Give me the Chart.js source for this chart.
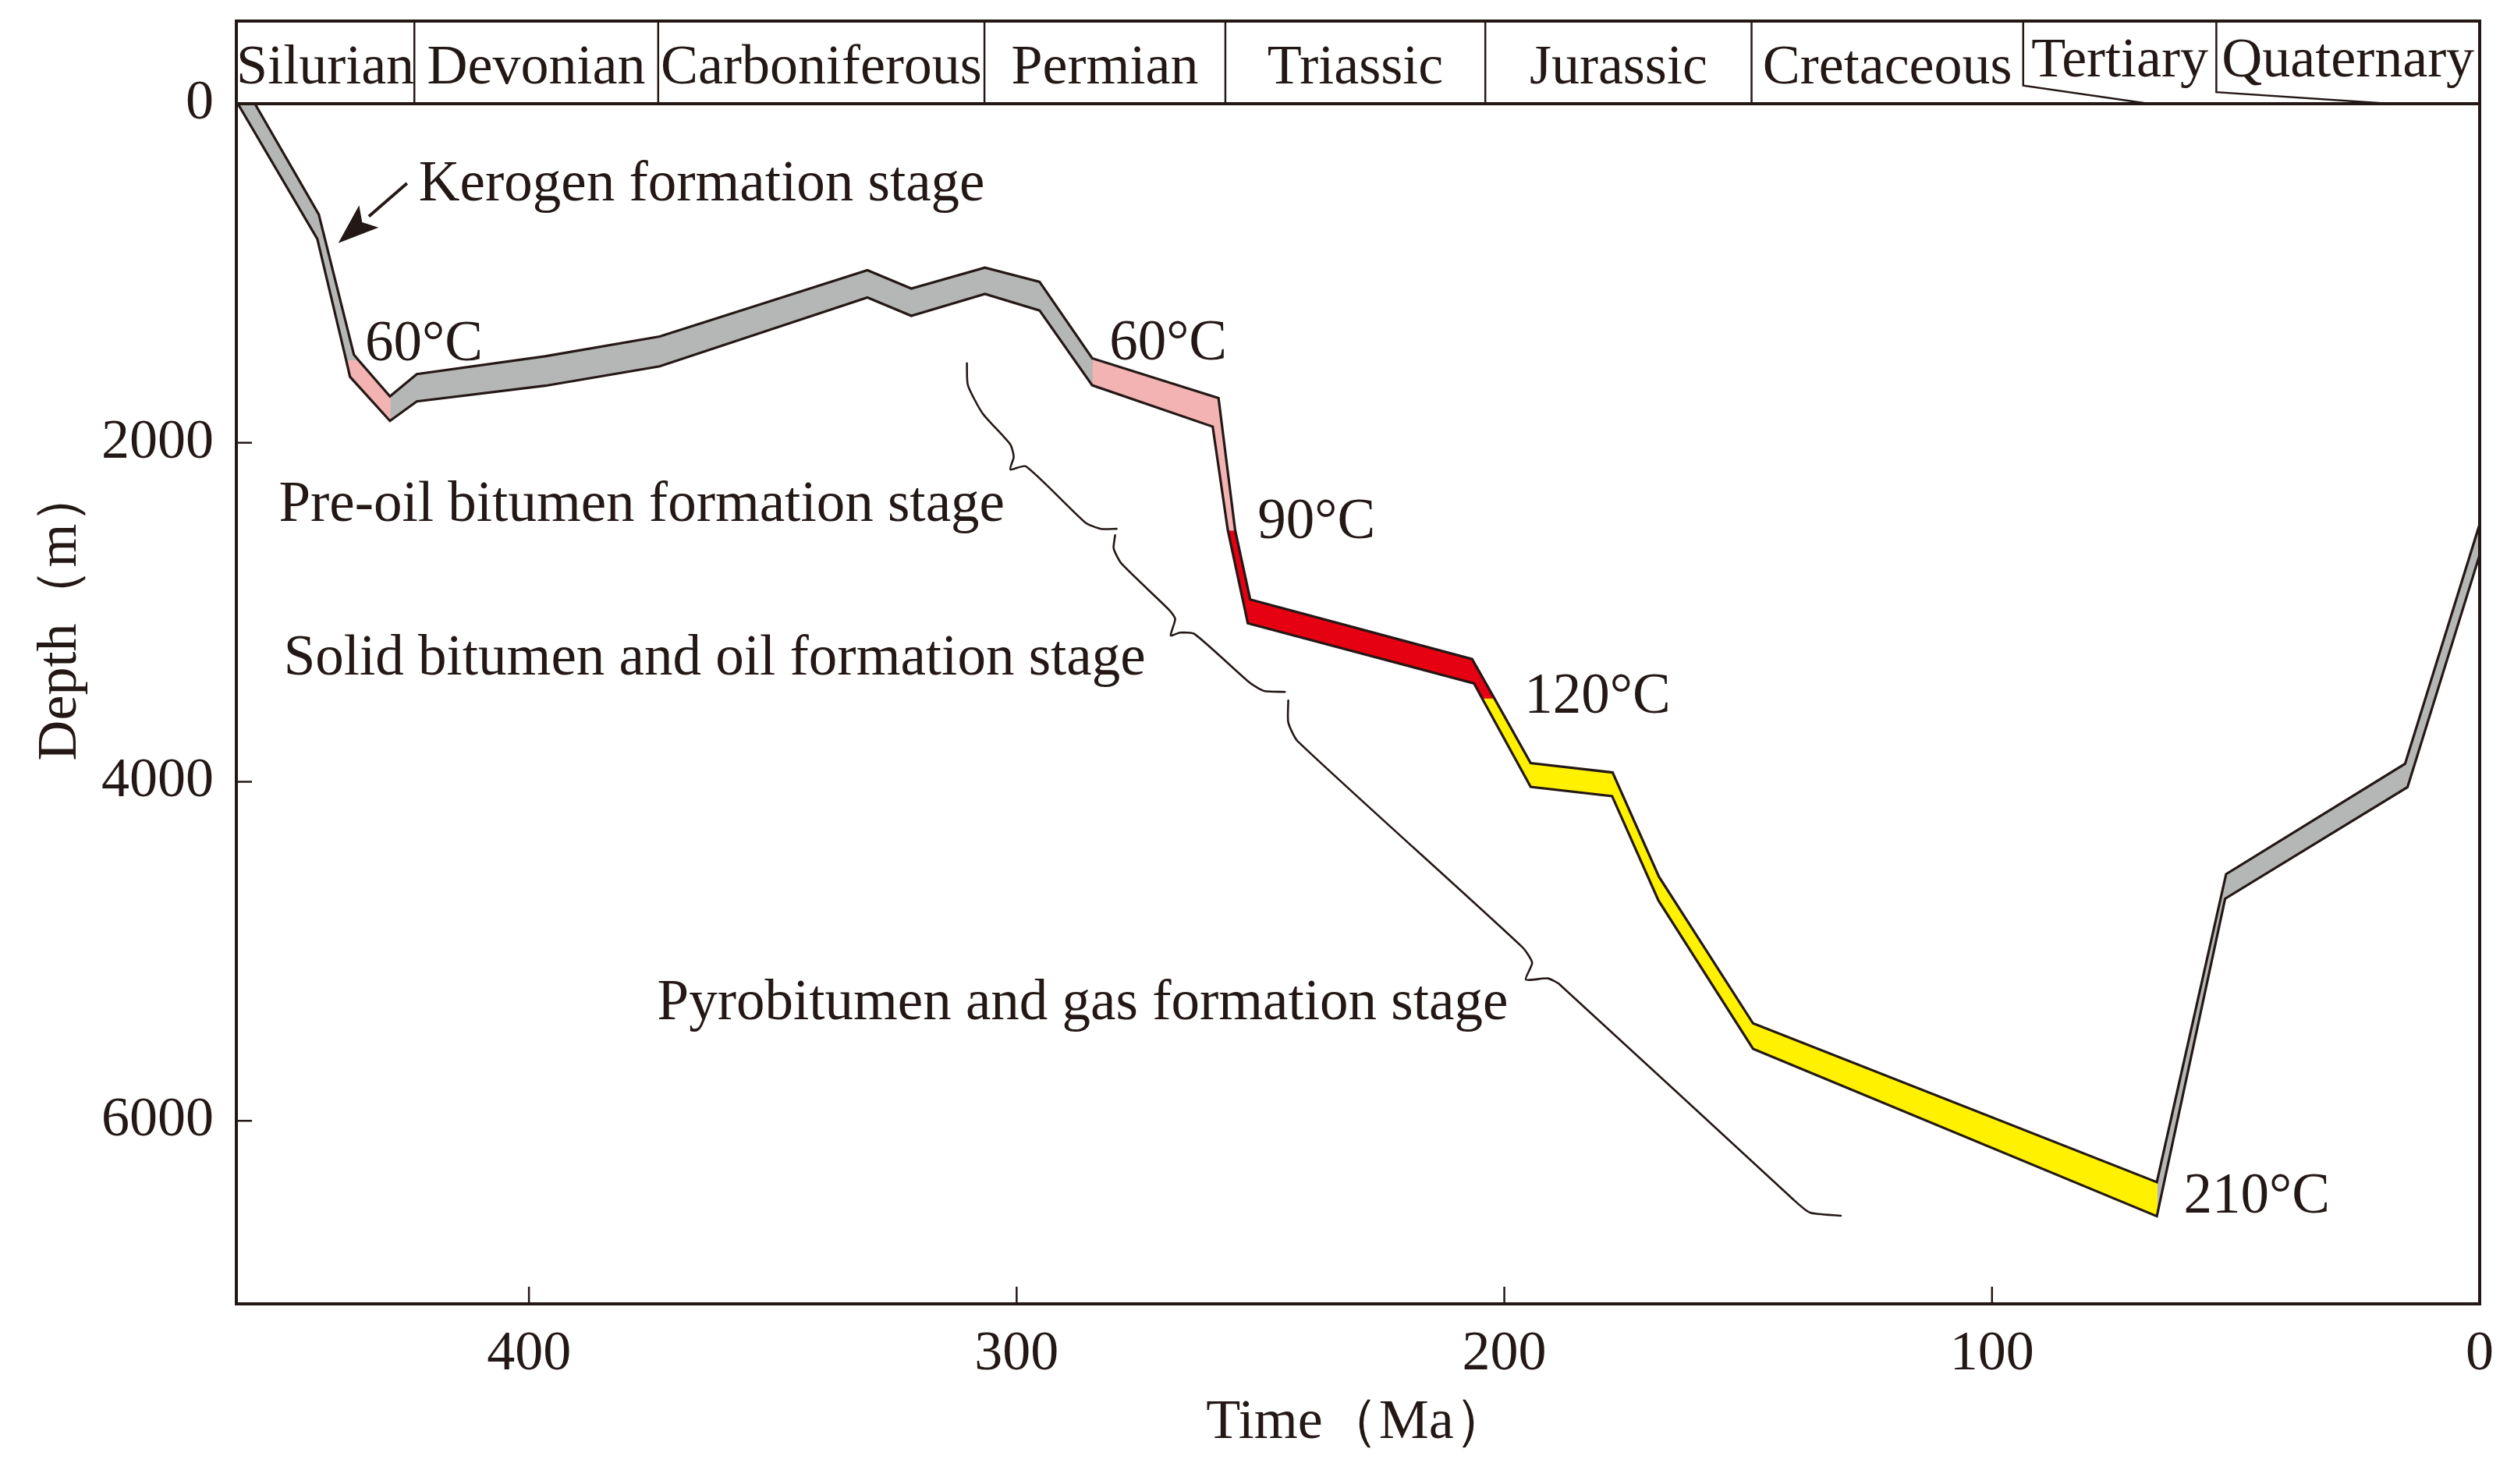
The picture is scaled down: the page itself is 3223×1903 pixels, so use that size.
<!DOCTYPE html>
<html>
<head>
<meta charset="utf-8">
<script src="https://cdn.jsdelivr.net/npm/chart.js@4.4.1/dist/chart.umd.min.js"></script>
<style>
html,body{margin:0;padding:0;background:#fff;}
#wrap{width:3223px;height:1903px;position:relative;}
</style>
</head>
<body>
<div id="wrap"><canvas id="c"></canvas></div>
<script>
const FONT = '"Liberation Serif","Times New Roman",serif';
const INK = '#231815';

// ---- geological time header ----
const periodNames  = ['Silurian','Devonian','Carboniferous','Permian','Triassic','Jurassic','Cretaceous','Tertiary','Quaternary'];
const periodBounds = [460, 423.5, 373.5, 306.6, 257.2, 203.9, 149.3, 93.6, 54.0, 0];
const dividerFoot  = [null, null, null, null, null, null, 67.8, 18.3]; // slanted foot for inner bounds

// ---- axis ticks ----
const xTicks = [400, 300, 200, 100, 0];
const yTicks = [0, 2000, 4000, 6000];

// ---- burial band: upper (shallow) line ----
const topAge   = [456.2, 443.1, 435.9, 435.0, 428.5, 423.0, 396.7, 373.2, 330.6, 321.6, 306.5, 295.3, 284.5, 258.6, 255.2, 252.1, 206.6, 202.1, 194.6, 177.8, 168.3, 149.0, 66.2, 52.0, 15.3, 0];
const topDepth = [0, 653, 1480, 1511, 1726, 1595, 1490, 1373, 982, 1090, 967, 1051, 1502, 1737, 2515, 2925, 3276, 3505, 3890, 3945, 4560, 5425, 6362, 4545, 3894, 2480];

// ---- burial band: lower (deep) line ----
const botAge   = [459.7, 443.4, 437.5, 436.7, 428.5, 423.0, 396.7, 373.2, 330.6, 321.6, 306.5, 295.3, 284.5, 259.8, 256.7, 252.6, 206.2, 204.6, 194.6, 177.9, 168.4, 149.0, 66.2, 52.2, 14.8, 0];
const botDepth = [0, 798, 1511, 1611, 1871, 1756, 1664, 1549, 1143, 1251, 1122, 1220, 1661, 1905, 2515, 3065, 3420, 3505, 4030, 4085, 4700, 5575, 6563, 4690, 4032, 2661];

// ---- thermal zones along the band (age ranges on each line) ----
const zoneColors  = ['#b5b7b6', '#f3b3b3', '#b5b7b6', '#f3b3b3', '#e50012', '#fff100', '#b5b7b6'];
const zoneTopFrom = [456.2, 435.0, 428.5, 284.5, 255.2, 202.1, 66.2];
const zoneTopTo   = [435.0, 428.5, 284.5, 255.2, 202.1, 66.2, 0];
const zoneBotFrom = [459.7, 437.5, 428.5, 284.5, 256.7, 204.6, 66.2];
const zoneBotTo   = [437.5, 428.5, 284.5, 256.7, 204.6, 66.2, 0];

// ---- braces ----
const brace1Age   = [310.2, 310.0, 307.0, 301.3, 300.6, 301.3, 298.1, 285.9, 282.7, 279.5];
const brace1Depth = [1531, 1660, 1826, 2010, 2084, 2158, 2139, 2471, 2508, 2508];
const brace2Age   = [279.8, 280.1, 278.5, 268.7, 267.5, 268.4, 266.5, 263.5, 252.4, 249.3, 245.0];
const brace2Depth = [2545, 2624, 2713, 2987, 3040, 3137, 3120, 3129, 3411, 3464, 3470];
const brace3Age   = [244.3, 244.3, 242.4, 196.3, 194.3, 195.6, 191.1, 188.6, 140.6, 137.3, 131.0];
const brace3Depth = [3521, 3650, 3760, 4976, 5068, 5167, 5160, 5197, 6468, 6542, 6560];

// ---- annotation text (left edge age, baseline depth) ----
const labelTexts = ['Kerogen formation stage', '60°C', '60°C', '90°C', '120°C', '210°C',
                    'Pre-oil bitumen formation stage', 'Solid bitumen and oil formation stage', 'Pyrobitumen and gas formation stage'];
const labelAge   = [422.6, 433.6, 281.0, 250.6, 195.9, 60.7, 451.3, 450.3, 373.7];
const labelDepth = [570, 1515, 1510, 2563, 3595, 6542, 2460, 3366, 5400];
const arrowAge   = [425.0, 439.1];
const arrowDepth = [469, 822];

function pts(ages, depths) { return ages.map((a, i) => ({x: a, y: depths[i]})); }
const topPts = pts(topAge, topDepth);
const botPts = pts(botAge, botDepth);

const datasets = [];
datasets.push({data: topPts, borderColor: INK, borderWidth: 3.2, pointRadius: 0, fill: false, tension: 0, order: 0});
datasets.push({data: botPts, borderColor: INK, borderWidth: 3.2, pointRadius: 0, fill: false, tension: 0, order: 0});
zoneColors.forEach((c, k) => {
  const t = topPts.filter(p => p.x <= zoneTopFrom[k] && p.x >= zoneTopTo[k]);
  const b = botPts.filter(p => p.x <= zoneBotFrom[k] && p.x >= zoneBotTo[k]).reverse();
  datasets.push({data: t.concat(b), borderColor: c, backgroundColor: c, borderWidth: 1.5,
                 pointRadius: 0, fill: 'shape', tension: 0, order: 2});
});
[[brace1Age, brace1Depth], [brace2Age, brace2Depth], [brace3Age, brace3Depth]].forEach(([a, d]) => {
  datasets.push({data: pts(a, d), borderColor: INK, borderWidth: 2.6, pointRadius: 0, fill: false,
                 tension: 0.2, borderCapStyle: 'round', borderJoinStyle: 'round', order: 1});
});

const decor = {
  id: 'decor',
  afterDraw(chart) {
    const {ctx, chartArea: ca, scales: {x, y}} = chart;
    const headerH = 106;
    const hTop = ca.top - headerH;
    ctx.save();
    ctx.strokeStyle = INK; ctx.fillStyle = INK;
    // frame
    ctx.lineWidth = 4;
    ctx.strokeRect(ca.left, hTop, ca.right - ca.left, ca.bottom - hTop);
    ctx.beginPath(); ctx.moveTo(ca.left, ca.top); ctx.lineTo(ca.right, ca.top); ctx.stroke();
    // dividers
    ctx.lineWidth = 2.5;
    for (let i = 1; i < periodBounds.length - 1; i++) {
      const px = x.getPixelForValue(periodBounds[i]);
      const foot = dividerFoot[i - 1];
      ctx.beginPath();
      ctx.moveTo(px, hTop);
      if (foot === null) {
        ctx.lineTo(px, ca.top);
      } else {
        const endY = hTop + headerH * (i === 7 ? 0.78 : 0.86);
        ctx.lineTo(px, endY);
        ctx.lineTo(x.getPixelForValue(foot), ca.top);
      }
      ctx.stroke();
    }
    // period names
    ctx.font = '72px ' + FONT;
    ctx.textAlign = 'center'; ctx.textBaseline = 'alphabetic';
    periodNames.forEach((n, i) => {
      const cx = (x.getPixelForValue(periodBounds[i]) + x.getPixelForValue(periodBounds[i + 1])) / 2;
      const by = hTop + (i >= 7 ? 71 : 80);
      ctx.fillText(n, cx, by);
    });
    // inward tick marks
    ctx.lineWidth = 2.5;
    xTicks.forEach(v => {
      const px = x.getPixelForValue(v);
      ctx.beginPath(); ctx.moveTo(px, ca.bottom); ctx.lineTo(px, ca.bottom - 22); ctx.stroke();
    });
    yTicks.forEach(v => {
      const py = y.getPixelForValue(v);
      ctx.beginPath(); ctx.moveTo(ca.left, py); ctx.lineTo(ca.left + 20, py); ctx.stroke();
    });
    // y title
    ctx.save();
    ctx.translate(ca.left - 225, y.getPixelForValue(3011));
    ctx.rotate(-Math.PI / 2);
    ctx.textAlign = 'center'; ctx.textBaseline = 'middle';
    ctx.font = '72px ' + FONT;
    ctx.fillText('Depth（m）', 0, 0);
    ctx.restore();
    // annotations
    ctx.font = '73px ' + FONT;
    ctx.textAlign = 'left'; ctx.textBaseline = 'alphabetic';
    labelTexts.forEach((t, i) => ctx.fillText(t, x.getPixelForValue(labelAge[i]), y.getPixelForValue(labelDepth[i])));
    // arrow
    const ax0 = x.getPixelForValue(arrowAge[0]), ay0 = y.getPixelForValue(arrowDepth[0]);
    const ax1 = x.getPixelForValue(arrowAge[1]), ay1 = y.getPixelForValue(arrowDepth[1]);
    const ang = Math.atan2(ay1 - ay0, ax1 - ax0);
    const hl = 52, hw = 19;
    const bx = ax1 - hl * Math.cos(ang), byy = ay1 - hl * Math.sin(ang);
    ctx.lineWidth = 3.8;
    ctx.beginPath(); ctx.moveTo(ax0, ay0); ctx.lineTo(bx, byy); ctx.stroke();
    ctx.beginPath();
    ctx.moveTo(ax1, ay1);
    ctx.lineTo(bx + hw * Math.sin(ang), byy - hw * Math.cos(ang));
    ctx.lineTo(ax1 - hl * 0.78 * Math.cos(ang), ay1 - hl * 0.78 * Math.sin(ang));
    ctx.lineTo(bx - hw * Math.sin(ang), byy + hw * Math.cos(ang));
    ctx.closePath(); ctx.fill();
    ctx.restore();
  }
};

new Chart(document.getElementById('c'), {
  type: 'line',
  data: {datasets},
  plugins: [decor],
  options: {
    responsive: true,
    maintainAspectRatio: false,
    animation: false,
    events: [],
    layout: {padding: {top: 133, right: 44, bottom: 0, left: 0}},
    plugins: {legend: {display: false}, tooltip: {enabled: false}},
    scales: {
      x: {
        type: 'linear', reverse: true, min: 0, max: 460,
        afterBuildTicks: s => { s.ticks = xTicks.map(v => ({value: v})); },
        afterFit: s => { s.height = 231; },
        grid: {display: false},
        border: {display: true, color: INK, width: 4},
        ticks: {color: INK, font: {family: FONT, size: 72}, padding: 14, maxRotation: 0, autoSkip: false,
                callback: v => String(v)},
        title: {display: true, text: 'Time（Ma）', color: INK, font: {family: FONT, size: 72}, padding: {top: 0, bottom: 35}}
      },
      y: {
        type: 'linear', reverse: true, min: 0, max: 7080,
        afterBuildTicks: s => { s.ticks = yTicks.map(v => ({value: v})); },
        afterFit: s => { s.width = 303; },
        grid: {display: false},
        border: {display: true, color: INK, width: 4},
        ticks: {color: INK, font: {family: FONT, size: 72}, padding: 21, autoSkip: false,
                callback: v => String(v)}
      }
    }
  }
});
</script>
</body>
</html>
